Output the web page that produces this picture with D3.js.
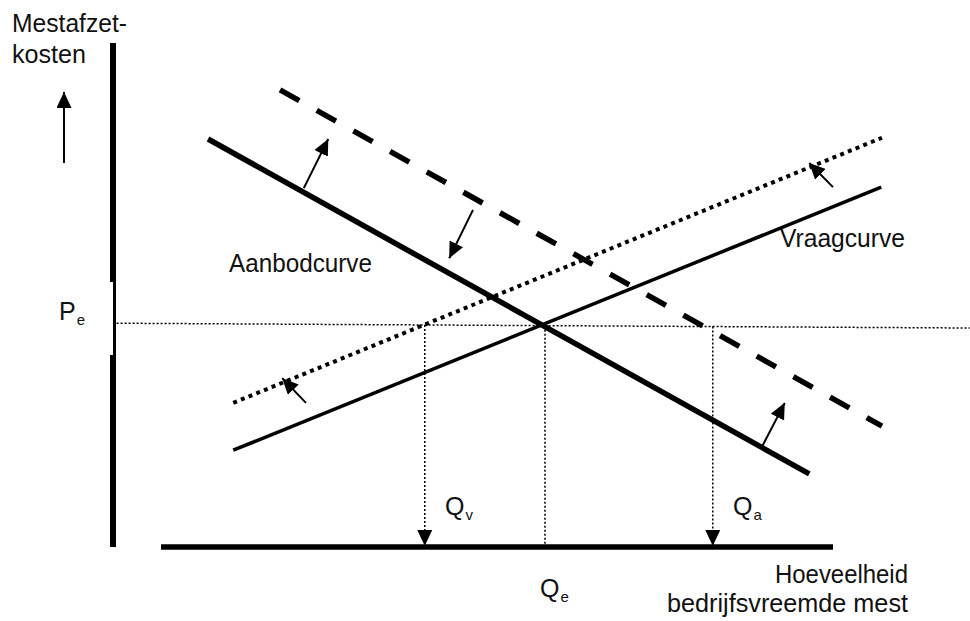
<!DOCTYPE html>
<html>
<head>
<meta charset="utf-8">
<script src="https://cdn.jsdelivr.net/npm/d3@7"></script>
<style>
  html, body { margin: 0; padding: 0; background: #fff; }
  svg { display: block; }
  text { font-family: "Liberation Sans Narrow", "Arial Narrow", "Liberation Sans", sans-serif; fill: #111; }
</style>
</head>
<body>
<div id="chart"></div>
<script>
// Curves (start / end in chart units, quantity 0-100 along x, cost 0-100 along y)
const curveNames = ['Aanbodcurve', 'Aanbod na', 'Vraagcurve', 'Vraag na'];
const curveStart = [[13.2, 80.95], [23.2, 90.7], [16.7, 19.2], [16.7, 28.6]];
const curveEnd   = [[96.7, 14.5], [106.8, 24.0], [106.7, 71.4], [106.8, 81.2]];

// Shift arrows between the curves
const shiftFrom = [[26.5, 71.2], [50.0, 66.9], [100.0, 71.4], [90.1, 19.8], [26.8, 28.6]];
const shiftTo   = [[29.9, 80.95], [46.7, 57.3], [96.7, 76.2], [93.3, 28.6], [23.5, 33.5]];

// Equilibrium price line and the quantities below it
const priceLineX = [0.5, 119];
const priceLineY = [44.4, 43.45];
const qNames  = ['v', 'e', 'a'];
const qValues = [43.3, 60.0, 83.3];
const qArrow  = [true, false, true];

// Axes (with the break in the vertical axis around Pe)
const yAxisParts = [[0, 38.1], [52.6, 100]];
const yAxisBreak = [38.1, 52.6];
const xAxisRange = [6.67, 100];
const yLabelArrow = [76.2, 90.3];

const width = 970, height = 621;

const svg = d3.select('#chart').append('svg')
    .attr('width', width)
    .attr('height', height);

const x = d3.scaleLinear().domain([0, 100]).range([113, 833]);
const y = d3.scaleLinear().domain([0, 100]).range([547, 43]);

// arrow head marker
const defs = svg.append('defs');
defs.append('marker')
    .attr('id', 'head')
    .attr('markerUnits', 'userSpaceOnUse')
    .attr('markerWidth', 17)
    .attr('markerHeight', 16)
    .attr('refX', 16)
    .attr('refY', 7.5)
    .attr('orient', 'auto')
  .append('path')
    .attr('d', 'M0,0 L16,7.5 L0,15 Z')
    .attr('fill', '#000');

// axes
svg.selectAll('.y-axis')
    .data(yAxisParts)
  .join('line')
    .attr('class', 'y-axis')
    .attr('x1', x(0)).attr('x2', x(0))
    .attr('y1', d => y(d[0])).attr('y2', d => y(d[1]))
    .attr('stroke', '#000')
    .attr('stroke-width', 6);

svg.append('line')
    .attr('x1', x(0) + 1.5).attr('x2', x(0) + 1.5)
    .attr('y1', y(yAxisBreak[0])).attr('y2', y(yAxisBreak[1]))
    .attr('stroke', '#000')
    .attr('stroke-width', 3);

svg.append('line')
    .attr('x1', x(xAxisRange[0])).attr('x2', x(xAxisRange[1]))
    .attr('y1', y(0)).attr('y2', y(0))
    .attr('stroke', '#000')
    .attr('stroke-width', 5.5);

// price line
const priceAt = q => priceLineY[0] + (q - priceLineX[0]) / (priceLineX[1] - priceLineX[0]) * (priceLineY[1] - priceLineY[0]);

svg.append('line')
    .attr('x1', x(priceLineX[0])).attr('x2', x(priceLineX[1]))
    .attr('y1', y(priceLineY[0])).attr('y2', y(priceLineY[1]))
    .attr('stroke', '#000')
    .attr('stroke-width', 1.5)
    .attr('stroke-dasharray', '2,2');

// drop lines to the quantity axis
svg.selectAll('.drop')
    .data(qValues)
  .join('line')
    .attr('class', 'drop')
    .attr('x1', d => x(d)).attr('x2', d => x(d))
    .attr('y1', d => y(priceAt(d)))
    .attr('y2', (d, i) => qArrow[i] ? y(0) - 1 : y(0))
    .attr('stroke', '#000')
    .attr('stroke-width', 1.5)
    .attr('stroke-dasharray', '2,2')
    .attr('marker-end', (d, i) => qArrow[i] ? 'url(#head)' : null);

// curves
const curveStyle = {
  'Aanbodcurve': {w: 5.5, dash: null},
  'Aanbod na':   {w: 5.5, dash: '22,20'},
  'Vraagcurve':  {w: 3.5, dash: null},
  'Vraag na':    {w: 4,   dash: '4,4.3'}
};

svg.selectAll('.curve')
    .data(curveNames)
  .join('line')
    .attr('class', 'curve')
    .attr('x1', (d, i) => x(curveStart[i][0]))
    .attr('y1', (d, i) => y(curveStart[i][1]))
    .attr('x2', (d, i) => x(curveEnd[i][0]))
    .attr('y2', (d, i) => y(curveEnd[i][1]))
    .attr('stroke', '#000')
    .attr('stroke-width', d => curveStyle[d].w)
    .attr('stroke-dasharray', d => curveStyle[d].dash);

// shift arrows
svg.selectAll('.shift')
    .data(shiftFrom)
  .join('line')
    .attr('class', 'shift')
    .attr('x1', d => x(d[0])).attr('y1', d => y(d[1]))
    .attr('x2', (d, i) => x(shiftTo[i][0]))
    .attr('y2', (d, i) => y(shiftTo[i][1]))
    .attr('stroke', '#000')
    .attr('stroke-width', 2)
    .attr('marker-end', 'url(#head)');

// arrow next to the cost label
svg.append('line')
    .attr('x1', 64).attr('x2', 64)
    .attr('y1', y(yLabelArrow[0])).attr('y2', y(yLabelArrow[1]))
    .attr('stroke', '#000')
    .attr('stroke-width', 2)
    .attr('marker-end', 'url(#head)');

// texts
const fs = 25;
const label = (txt, px, py, len, anchor) => svg.append('text')
    .attr('x', px).attr('y', py)
    .attr('font-size', fs)
    .attr('text-anchor', anchor || 'start')
    .attr('textLength', len)
    .attr('lengthAdjust', 'spacingAndGlyphs')
    .text(txt);

label('Mestafzet-', 12, 32, 115);
label('kosten', 12, 63, 74);
label(curveNames[0], 229, 272, 143);
label(curveNames[2], 780, 247, 125);
label('Hoeveelheid', 908, 583, 133, 'end');
label('bedrijfsvreemde mest', 908, 612, 241, 'end');

// subscripted labels
const subLabel = (main, sub, px, py) => {
  const t = svg.append('text')
      .attr('x', px).attr('y', py)
      .attr('font-size', fs);
  t.append('tspan').text(main);
  t.append('tspan')
      .attr('font-size', 15)
      .attr('dx', 1)
      .attr('dy', 5)
      .text(sub);
};

subLabel('P', 'e', 59, 320);
const qLabelPos = [[445, 515], [540, 597], [733, 515]];
qNames.forEach((n, i) => subLabel('Q', n, qLabelPos[i][0], qLabelPos[i][1]));
</script>
</body>
</html>
